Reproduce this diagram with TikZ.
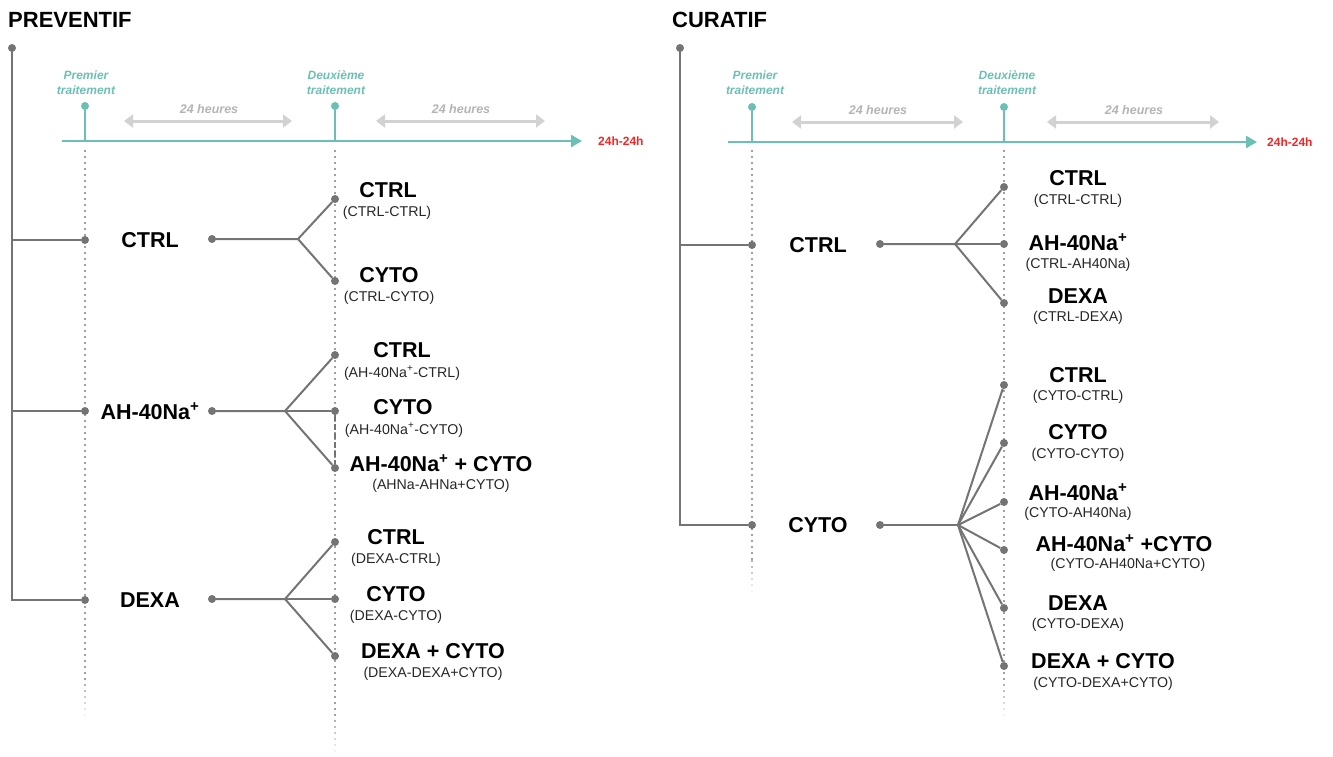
\documentclass[tikz,border=0pt]{standalone}
\usepackage{fontspec}
\setmainfont{Liberation Sans}
\usetikzlibrary{arrows.meta}

\definecolor{tealc}{HTML}{6CBFB4}
\definecolor{linec}{HTML}{747474}
\definecolor{arrowc}{HTML}{D2D2D2}
\definecolor{hourc}{HTML}{B4B4B4}
\definecolor{redc}{HTML}{F42525}
\definecolor{guidec}{HTML}{A0A0A0}

\begin{document}
\begin{tikzpicture}[x=1pt, y=-1pt,
  dot/.style={circle, fill=linec, inner sep=0pt, minimum size=8pt},
  tdot/.style={circle, fill=tealc, inner sep=0pt, minimum size=8pt},
  br/.style={linec, line width=2pt},
  guide/.style={guidec, line width=2pt, dash pattern=on 2pt off 4pt},
  axis/.style={tealc, line width=2.5pt, -{Triangle[length=11pt,width=12pt]}},
  stem/.style={tealc, line width=2pt},
  hours/.style={arrowc, line width=3pt, {Triangle[length=9pt,width=13pt]}-{Triangle[length=9pt,width=13pt]}},
  title/.style={font=\bfseries\fontsize{22}{24}\selectfont, anchor=west, inner sep=0pt},
  big/.style={font=\bfseries\fontsize{21.5}{23}\selectfont, inner sep=0pt},
  sub/.style={font=\fontsize{14.2}{16}\selectfont, text=black!85, inner sep=0pt},
  trt/.style={font=\bfseries\itshape\fontsize{12}{15}\selectfont, text=tealc, align=center, inner sep=0pt},
  hr/.style={font=\bfseries\itshape\fontsize{12.5}{14}\selectfont, text=hourc, inner sep=0pt},
  end/.style={font=\bfseries\fontsize{12}{14}\selectfont, text=redc, anchor=west, inner sep=0pt}]

  \useasboundingbox (0,0) rectangle (1333,756);

  % ---------------- PREVENTIF ----------------
  \node[title] (prev) at (8,20) {PREVENTIF};

  % time axis
  \draw[guide] (85,150) -- (85,684);
  \foreach \i in {0,...,5}
    \draw[guide, draw opacity=0.8-0.14*\i] (85,684+6*\i) -- ++(0,6);
  \draw[guide] (335,150) -- (335,720);
  \foreach \i in {0,...,5}
    \draw[guide, draw opacity=0.8-0.14*\i] (335,720+6*\i) -- ++(0,6);
  \coordinate (pa0) at (62,141);
  \coordinate (pa1) at (582,141);
  \draw[axis] (pa0) -- (pa1);
  \node[end] (pend) at (598,141) {24h-24h};
  \node[tdot] (pt1) at (85,106) {};
  \node[tdot] (pt2) at (335,106) {};
  \draw[stem] (pt1) -- (pt1 |- pa0);
  \draw[stem] (pt2) -- (pt2 |- pa0);
  \node[trt] (ptl1) at (86,83) {Premier\\traitement};
  \node[trt] (ptl2) at (336,83) {Deuxième\\traitement};
  \coordinate (ph1a) at (124,121);
  \coordinate (ph1b) at (292,121);
  \coordinate (ph2a) at (376,121);
  \coordinate (ph2b) at (545,121);
  \draw[hours] (ph1a) -- (ph1b);
  \draw[hours] (ph2a) -- (ph2b);
  \node[hr] (phl1) at (209,109) {24 heures};
  \node[hr] (phl2) at (461,109) {24 heures};

  % tree
  \node[dot] (p0) at (12,48) {};
  \node[dot] (p1) at (85,240) {};
  \node[dot] (p2) at (85,411) {};
  \node[dot] (p3) at (85,600) {};
  \draw[br] (p0.center) |- (p3);
  \draw[br] (p0 |- p1) -- (p1);
  \draw[br] (p0 |- p2) -- (p2);

  % CTRL
  \node[big] (pc) at (150,240) {CTRL};
  \node[dot] (pcd) at (212,239) {};
  \coordinate (pcf) at (298,239);
  \node[dot] (pc1) at (335,199) {};
  \node[dot] (pc2) at (335,281) {};
  \draw[br] (pcd.center) -- (pcf) -- (pc1);
  \draw[br] (pcf) -- (pc2);
  \node[big] (pc1t) at (388,190) {CTRL};
  \node[sub] (pc1s) at (387,213) {(CTRL-CTRL)};
  \node[big] (pc2t) at (389,275) {CYTO};
  \node[sub] (pc2s) at (389,298) {(CTRL-CYTO)};

  % AH-40Na+
  \node[big] (pa) at (150,411) {AH-40Na\textsuperscript{+}};
  \node[dot] (pad) at (212,411) {};
  \coordinate (paf) at (285,411);
  \node[dot] (pa1n) at (335,355) {};
  \node[dot] (pa2n) at (335,411) {};
  \node[dot] (pa3n) at (335,468) {};
  \draw[br] (pad.center) -- (paf) -- (pa1n);
  \draw[br] (paf) -- (pa2n);
  \draw[br] (paf) -- (pa3n);
  \draw[linec, line width=1.5pt, dash pattern=on 6pt off 3pt] (pa2n) -- (pa3n);
  \node[big] (pa1t) at (402,350) {CTRL};
  \node[sub] (pa1s) at (402,373) {(AH-40Na\textsuperscript{+}-CTRL)};
  \node[big] (pa2t) at (403,407) {CYTO};
  \node[sub] (pa2s) at (404,430) {(AH-40Na\textsuperscript{+}-CYTO)};
  \node[big] (pa3t) at (441,463) {AH-40Na\textsuperscript{+} + CYTO};
  \node[sub] (pa3s) at (441,486) {(AHNa-AHNa+CYTO)};

  % DEXA
  \node[big] (pd) at (150,600) {DEXA};
  \node[dot] (pdd) at (212,599) {};
  \coordinate (pdf) at (285,599);
  \node[dot] (pd1) at (335,542) {};
  \node[dot] (pd2) at (335,599) {};
  \node[dot] (pd3) at (335,656) {};
  \draw[br] (pdd.center) -- (pdf) -- (pd1);
  \draw[br] (pdf) -- (pd2);
  \draw[br] (pdf) -- (pd3);
  \node[big] (pd1t) at (396,537) {CTRL};
  \node[sub] (pd1s) at (396,560) {(DEXA-CTRL)};
  \node[big] (pd2t) at (396,594) {CYTO};
  \node[sub] (pd2s) at (396,617) {(DEXA-CYTO)};
  \node[big] (pd3t) at (433,651) {DEXA + CYTO};
  \node[sub] (pd3s) at (433,674) {(DEXA-DEXA+CYTO)};

  % ---------------- CURATIF ----------------
  \node[title] (cur) at (672,20) {CURATIF};

  % time axis
  \draw[guide] (752,150) -- (752,560);
  \foreach \i in {0,...,5}
    \draw[guide, draw opacity=0.8-0.14*\i] (752,560+6*\i) -- ++(0,6);
  \draw[guide] (1004,150) -- (1004,684);
  \foreach \i in {0,...,5}
    \draw[guide, draw opacity=0.8-0.14*\i] (1004,684+6*\i) -- ++(0,6);
  \coordinate (ca0) at (728,142);
  \coordinate (ca1) at (1257,142);
  \draw[axis] (ca0) -- (ca1);
  \node[end] (cend) at (1267,142) {24h-24h};
  \node[tdot] (ct1) at (752,107) {};
  \node[tdot] (ct2) at (1004,107) {};
  \draw[stem] (ct1) -- (ct1 |- ca0);
  \draw[stem] (ct2) -- (ct2 |- ca0);
  \node[trt] (ctl1) at (755,83) {Premier\\traitement};
  \node[trt] (ctl2) at (1007,83) {Deuxième\\traitement};
  \coordinate (ch1a) at (792,122);
  \coordinate (ch1b) at (963,122);
  \coordinate (ch2a) at (1047,122);
  \coordinate (ch2b) at (1219,122);
  \draw[hours] (ch1a) -- (ch1b);
  \draw[hours] (ch2a) -- (ch2b);
  \node[hr] (chl1) at (878,110) {24 heures};
  \node[hr] (chl2) at (1134,110) {24 heures};

  % tree
  \node[dot] (c0) at (680,48) {};
  \node[dot] (c1) at (752,245) {};
  \node[dot] (c2) at (752,525) {};
  \draw[br] (c0.center) |- (c2);
  \draw[br] (c0 |- c1) -- (c1);

  % CTRL
  \node[big] (cc) at (818,245) {CTRL};
  \node[dot] (ccd) at (880,244) {};
  \coordinate (ccf) at (955,244);
  \node[dot] (cc1) at (1004,187) {};
  \node[dot] (cc2) at (1004,244) {};
  \node[dot] (cc3) at (1004,303) {};
  \draw[br] (ccd.center) -- (ccf) -- (cc1);
  \draw[br] (ccf) -- (cc2);
  \draw[br] (ccf) -- (cc3);
  \node[big] (cc1t) at (1078,178) {CTRL};
  \node[sub] (cc1s) at (1078,201) {(CTRL-CTRL)};
  \node[big] (cc2t) at (1078,242) {AH-40Na\textsuperscript{+}};
  \node[sub] (cc2s) at (1078,265) {(CTRL-AH40Na)};
  \node[big] (cc3t) at (1078,296) {DEXA};
  \node[sub] (cc3s) at (1078,318) {(CTRL-DEXA)};

  % CYTO
  \node[big] (cy) at (818,525) {CYTO};
  \node[dot] (cyd) at (880,525) {};
  \coordinate (cyf) at (958,525);
  \node[dot] (cy1) at (1004,385) {};
  \node[dot] (cy2) at (1004,443) {};
  \node[dot] (cy3) at (1004,502) {};
  \node[dot] (cy4) at (1004,550) {};
  \node[dot] (cy5) at (1004,608) {};
  \node[dot] (cy6) at (1004,666) {};
  \draw[br] (cyd.center) -- (cyf);
  \foreach \t in {cy1,cy2,cy3,cy4,cy5,cy6}
    \draw[br] (cyf) -- (\t);
  \node[big] (cy1t) at (1078,375) {CTRL};
  \node[sub] (cy1s) at (1078,397) {(CYTO-CTRL)};
  \node[big] (cy2t) at (1078,432) {CYTO};
  \node[sub] (cy2s) at (1078,455) {(CYTO-CYTO)};
  \node[big] (cy3t) at (1078,492) {AH-40Na\textsuperscript{+}};
  \node[sub] (cy3s) at (1078,514) {(CYTO-AH40Na)};
  \node[big] (cy4t) at (1124,543) {AH-40Na\textsuperscript{+} +CYTO};
  \node[sub] (cy4s) at (1128,565) {(CYTO-AH40Na+CYTO)};
  \node[big] (cy5t) at (1078,603) {DEXA};
  \node[sub] (cy5s) at (1078,625) {(CYTO-DEXA)};
  \node[big] (cy6t) at (1103,661) {DEXA + CYTO};
  \node[sub] (cy6s) at (1103,684) {(CYTO-DEXA+CYTO)};
\end{tikzpicture}
\end{document}
